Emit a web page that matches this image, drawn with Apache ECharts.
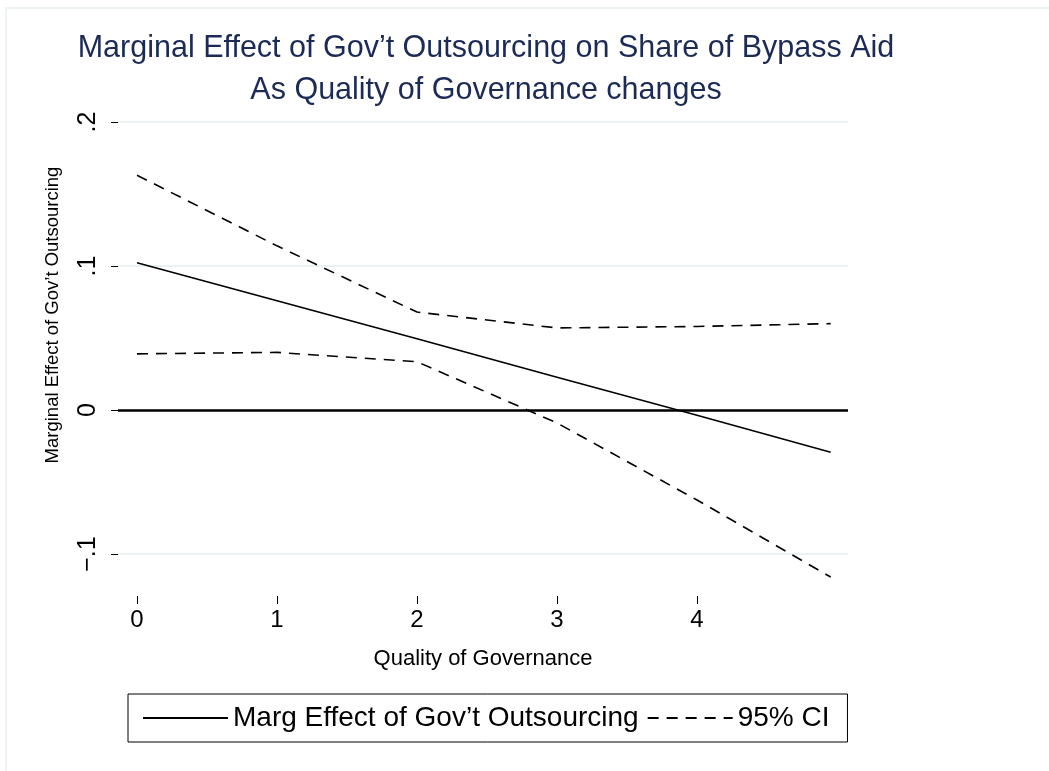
<!DOCTYPE html>
<html>
<head>
<meta charset="utf-8">
<title>Marginal Effect of Gov't Outsourcing</title>
<script src="https://cdn.jsdelivr.net/npm/echarts@6/dist/echarts.min.js"></script>
<style>
  html, body { margin: 0; padding: 0; background: #fff; }
  #chart { width: 1049px; height: 771px; }
</style>
</head>
<body>
<div id="chart"></div>
<script>
  // points where the marginal effect was evaluated
  var qog = [0, 1, 2, 3, 4, 4.955];
  var margEffect = [0.1023, 0.0759, 0.0495, 0.0228, -0.0037, -0.0294];
  var ciUpper = [0.163, 0.114, 0.068, 0.057, 0.058, 0.060];
  var ciLower = [0.039, 0.040, 0.0335, -0.009, -0.0625, -0.116];

  var xTicks = [0, 1, 2, 3, 4];
  var yTickLabels = { '-0.1': '\u2212.1', '0': '0', '0.1': '.1', '0.2': '.2' };

  function pairs(xs, ys) {
    var out = [];
    for (var i = 0; i < xs.length; i++) out.push([xs[i], ys[i]]);
    return out;
  }

  var font = 'Liberation Sans, Arial, sans-serif';
  var dash = [11, 8];

  var myChart = echarts.init(document.getElementById('chart'));
  var option = {
    animation: false,
    backgroundColor: '#fff',
    textStyle: { fontFamily: font },
    graphic: [{
      type: 'rect',
      shape: { x: 6, y: 8, width: 1200, height: 900 },
      style: { fill: 'none', stroke: '#e9f0f3', lineWidth: 1.5 },
      silent: true
    }],
    title: {
      text: "Marginal Effect of Gov\u2019t Outsourcing on Share of Bypass Aid\nAs Quality of Governance changes",
      left: 481,
      textAlign: 'center',
      top: 23,
      textStyle: {
        color: '#1c2b55',
        fontSize: 30.5,
        fontWeight: 'normal',
        lineHeight: 42,
        fontFamily: font
      }
    },
    legend: {
      left: 128,
      top: 694,
      orient: 'horizontal',
      itemWidth: 85,
      itemHeight: 14,
      itemGap: 8,
      padding: [10, 18, 10, 14],
      borderColor: '#000',
      borderWidth: 1,
      borderRadius: 0,
      itemStyle: { opacity: 0 },
      textStyle: { color: '#000', fontSize: 28, fontFamily: font },
      data: ["Marg Effect of Gov\u2019t Outsourcing", '95% CI']
    },
    grid: { left: 118, right: 201, top: 122, bottom: 217 },
    xAxis: {
      type: 'value',
      min: -0.1357,
      max: 5.0786,
      offset: 42,
      name: 'Quality of Governance',
      nameLocation: 'middle',
      nameGap: 52,
      nameTextStyle: { color: '#000', fontSize: 22, fontFamily: font },
      axisLine: { show: false, onZero: false },
      axisTick: { show: true, length: 8, customValues: xTicks, lineStyle: { color: '#000', width: 1 } },
      axisLabel: { customValues: xTicks, color: '#000', fontSize: 24, margin: 12, fontFamily: font },
      splitLine: { show: false }
    },
    yAxis: {
      type: 'value',
      min: -0.1,
      max: 0.2,
      interval: 0.1,
      name: "Marginal Effect of Gov\u2019t Outsourcing",
      nameLocation: 'middle',
      nameGap: 56,
      nameTextStyle: { color: '#000', fontSize: 18.5, fontFamily: font, padding: [0, 0, 0, 46] },
      axisLine: { show: false, onZero: false },
      axisTick: { show: true, length: 7, lineStyle: { color: '#000', width: 1 } },
      axisLabel: {
        rotate: 90,
        margin: 17,
        color: '#000',
        fontSize: 25,
        fontFamily: font,
        formatter: function (v) { return yTickLabels[String(Math.round(v * 10) / 10)]; }
      },
      splitLine: { show: true, lineStyle: { color: '#eaf1f3', width: 2 } }
    },
    series: [
      {
        name: "Marg Effect of Gov\u2019t Outsourcing",
        type: 'line',
        data: pairs(qog, margEffect),
        symbol: 'none',
        clip: false,
        lineStyle: { color: '#000', width: 1.6, type: 'solid' },
        itemStyle: { color: '#000' },
        markLine: {
          silent: true,
          symbol: ['none', 'none'],
          label: { show: false },
          lineStyle: { color: '#000', width: 2.5, type: 'solid' },
          data: [{ yAxis: 0 }]
        }
      },
      {
        name: '95% CI',
        type: 'line',
        data: pairs(qog, ciUpper),
        symbol: 'none',
        clip: false,
        lineStyle: { color: '#000', width: 1.6, type: dash },
        itemStyle: { color: '#000' }
      },
      {
        name: '95% CI',
        type: 'line',
        data: pairs(qog, ciLower),
        symbol: 'none',
        clip: false,
        lineStyle: { color: '#000', width: 1.6, type: dash },
        itemStyle: { color: '#000' }
      }
    ]
  };
  myChart.setOption(option);
</script>
</body>
</html>
